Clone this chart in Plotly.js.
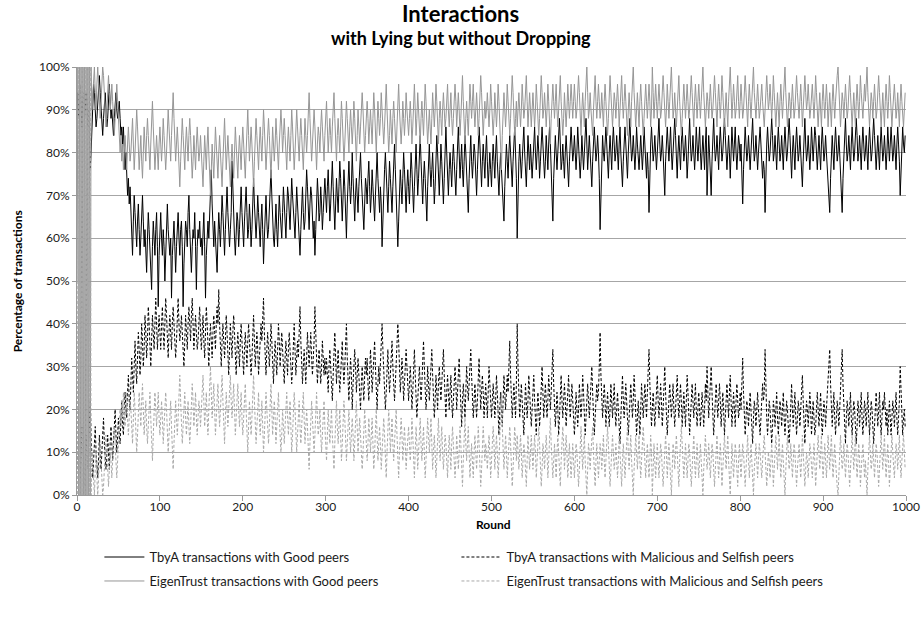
<!DOCTYPE html>
<html>
<head>
<meta charset="utf-8">
<script src="https://cdn.plot.ly/plotly-3.0.1.min.js"></script>
<style>
  html, body { margin: 0; padding: 0; background: #fff; }
  #chart { width: 921px; height: 621px; }
</style>
</head>
<body>
<div id="chart"></div>
<script>
// Share of transactions (%) per round, one value per round 0..999.

// TbyA: transactions with good peers
const tbyaGood = [
  90,94,88,92,96,90,86,92,94,88,90,94,92,86,90,82,76,80,86,92,96,94,90,86,88,92,96,98,94,90,88,84,88,92,94,90,86,88,94,96,92,88,90,86,84,88,92,94,90,88,
  90,92,88,84,86,82,86,80,76,80,74,70,74,68,72,66,62,56,64,70,66,62,58,64,68,62,56,60,66,70,64,58,62,56,52,60,66,62,58,54,48,58,64,60,56,62,66,58,44,56,
  62,66,60,56,62,58,50,58,64,68,62,58,56,60,46,56,62,64,58,52,58,62,66,60,56,62,64,58,44,54,60,64,62,58,66,70,62,56,52,58,62,60,66,58,48,58,62,60,64,58,
  60,56,62,66,58,46,56,62,64,60,66,72,76,68,62,58,64,60,54,52,60,66,62,58,64,70,66,60,56,62,68,72,66,60,58,62,66,78,70,64,60,56,62,66,64,58,62,68,72,66,
  62,58,64,68,72,66,60,62,68,64,58,62,70,74,68,62,60,64,70,66,60,58,64,68,62,54,60,66,70,64,60,62,68,72,76,70,64,60,58,64,68,62,58,64,70,66,62,60,66,72,
  68,64,60,66,72,70,64,62,68,74,70,66,62,60,66,72,68,64,62,56,62,68,72,66,62,64,70,76,72,66,62,68,72,70,64,60,64,56,62,68,74,70,64,66,72,68,62,66,70,74,
  70,66,72,76,70,64,68,74,78,72,66,62,68,74,70,66,72,78,74,68,64,70,76,72,66,60,68,74,78,72,68,72,80,74,68,64,70,74,70,66,72,76,80,74,70,66,62,68,74,72,
  68,74,78,72,66,70,76,72,68,64,70,76,80,74,70,66,72,68,58,66,72,76,80,76,70,66,72,78,74,70,66,72,76,82,76,70,66,58,64,70,76,72,68,74,80,76,70,66,72,76,
  72,68,74,80,76,70,66,72,78,82,76,70,74,80,84,78,72,68,74,78,74,70,64,72,78,82,76,72,76,80,74,68,72,78,84,80,74,70,76,82,78,72,68,74,80,86,80,74,70,76,
  80,76,72,78,82,78,74,70,76,82,86,80,74,78,82,76,72,78,84,80,76,72,66,74,80,84,78,74,78,82,80,74,70,76,82,86,82,76,72,78,82,78,74,80,84,78,72,76,80,76,
  72,78,82,78,74,80,84,78,74,70,76,80,76,72,68,64,72,78,82,78,74,80,84,80,76,72,78,82,86,80,74,60,72,78,82,78,74,78,82,86,80,76,72,78,84,80,76,82,78,74,
  78,82,86,80,76,80,84,80,74,78,82,86,82,78,74,78,84,80,76,82,86,82,76,72,64,74,80,84,80,76,80,86,88,82,76,78,82,78,74,80,84,80,76,72,78,82,86,82,78,80,
  84,80,76,80,86,82,78,74,78,84,80,76,80,84,88,82,76,80,84,80,76,72,78,82,86,82,78,80,84,80,74,62,72,80,84,80,78,82,86,82,76,74,80,84,80,76,82,86,82,78,
  80,84,80,76,82,86,80,76,72,78,82,86,82,78,74,80,84,88,82,78,80,84,80,76,80,86,82,78,76,80,84,80,76,80,86,82,78,74,80,76,66,76,82,86,82,78,80,84,80,76,
  80,84,88,82,78,80,84,80,76,70,78,84,86,82,78,82,86,80,76,80,84,88,84,78,74,80,84,80,76,82,86,82,78,80,84,80,74,78,84,88,82,78,80,84,80,76,80,86,82,78,
  82,86,80,76,80,84,80,76,82,86,70,78,84,80,76,70,78,84,88,82,78,80,84,80,76,82,86,82,78,80,84,88,84,80,76,80,84,80,74,80,86,82,78,82,86,80,76,80,84,82,
  78,82,76,68,76,82,86,82,78,80,84,80,76,80,86,88,82,78,80,84,80,76,80,84,86,82,78,74,78,76,66,76,82,86,82,78,80,84,88,84,78,80,84,80,76,82,86,82,78,80,
  84,80,76,82,86,82,78,80,84,88,84,78,74,80,84,80,76,82,86,82,78,80,84,80,76,72,78,84,88,82,78,80,84,80,76,80,86,82,78,82,86,84,78,76,80,84,80,76,82,86,
  82,78,80,84,80,76,72,70,66,74,80,84,80,76,82,86,82,78,80,84,80,76,72,66,74,80,84,88,82,78,80,84,80,76,82,86,82,78,80,84,88,84,78,80,84,80,76,82,86,82,
  78,80,84,80,76,82,86,82,78,80,84,88,84,78,76,80,84,80,76,82,86,82,78,80,84,80,76,80,86,82,78,82,86,82,78,80,84,80,76,82,86,82,78,70,76,82,86,82,80,84
];

// TbyA: transactions with malicious and selfish peers
const tbyaBad = [
  6,10,14,8,4,10,16,12,6,2,8,14,10,6,12,18,22,14,8,4,8,12,16,10,6,4,8,14,10,6,10,14,18,12,8,6,10,14,10,6,12,16,12,8,12,16,20,14,10,14,
  18,14,12,18,22,16,14,20,24,20,18,24,28,22,20,26,32,28,24,30,36,30,26,32,38,34,28,32,40,36,30,34,42,38,32,36,44,40,34,30,36,42,38,34,40,46,40,34,38,42,
  38,34,40,44,38,34,40,46,42,36,32,38,42,38,34,40,44,40,36,32,36,42,46,40,36,38,42,38,34,30,36,42,38,34,40,44,40,36,42,46,40,34,38,42,38,34,36,40,44,38,
  34,38,42,36,32,38,44,40,34,30,36,40,36,32,38,42,38,34,40,44,40,48,40,34,30,36,40,36,32,36,42,38,32,28,34,40,36,32,38,42,38,32,28,34,38,34,30,36,40,36,
  32,28,34,38,34,30,36,40,36,32,28,32,38,42,36,30,34,38,34,28,32,36,40,36,40,46,38,32,28,34,38,34,30,34,40,36,30,26,32,36,32,28,34,40,36,30,34,38,34,30,
  26,32,36,32,28,34,38,34,30,26,30,36,40,34,28,32,36,32,38,44,36,30,26,30,34,30,26,32,38,34,30,34,38,32,28,32,36,44,36,30,26,30,34,30,26,30,36,32,28,32,
  28,32,28,24,30,34,30,26,22,28,34,38,32,26,30,34,28,24,28,32,36,30,26,30,34,40,32,26,22,28,32,28,20,26,30,34,30,24,28,32,28,24,20,26,30,26,22,28,32,28,
  32,26,22,28,34,30,24,28,32,36,30,24,20,26,30,26,30,34,40,34,28,24,20,24,30,34,28,24,28,32,36,30,26,22,26,30,34,40,36,30,24,28,32,28,22,26,30,34,30,26,
  22,26,30,26,20,24,28,34,28,22,18,22,26,30,26,22,26,32,36,30,24,20,24,30,26,22,26,30,34,28,22,18,22,28,24,20,26,30,26,22,26,30,34,28,22,18,24,28,24,20,
  24,28,22,18,22,26,30,26,20,24,28,32,26,20,16,22,26,22,18,24,30,26,22,26,30,34,28,22,18,22,26,22,18,22,28,32,26,20,24,28,24,18,22,26,22,18,24,30,26,22,
  18,22,26,22,18,22,28,24,18,14,20,24,20,16,22,28,24,20,24,28,24,30,36,28,22,18,22,26,22,18,26,40,30,22,18,22,26,22,18,14,20,26,22,18,22,28,24,20,16,20,
  24,28,22,18,14,20,24,20,16,20,26,30,24,18,22,26,22,18,22,28,24,20,24,28,34,26,20,16,20,24,20,14,18,24,28,22,18,22,26,22,16,20,24,28,22,18,22,26,22,18,
  14,18,24,20,16,20,26,22,18,22,28,24,18,14,18,22,26,22,18,22,26,30,24,18,14,18,22,26,22,24,30,38,28,22,18,22,26,22,16,20,24,20,16,20,26,22,18,22,26,20,
  16,20,24,20,16,12,18,24,28,22,18,22,26,22,18,14,18,22,26,22,18,22,28,24,18,14,18,22,18,14,20,26,22,18,22,26,22,18,24,28,34,26,20,16,20,24,20,16,20,24,
  28,22,18,22,26,22,16,20,24,30,24,18,14,18,22,26,22,18,22,26,20,16,20,24,28,22,18,22,26,22,16,20,24,20,16,22,28,24,18,14,18,22,26,22,18,22,26,20,16,20,
  24,20,16,20,24,20,16,20,26,22,30,24,18,22,26,30,24,18,14,18,22,26,22,18,22,26,22,16,20,24,20,14,18,22,26,22,18,24,28,22,16,20,24,20,16,22,26,22,18,20,
  24,20,26,32,24,18,14,18,22,20,16,20,24,20,14,12,18,22,20,16,20,24,20,16,14,18,22,26,22,24,34,24,18,14,18,22,20,16,12,16,22,20,16,20,24,18,14,18,22,20,
  16,20,24,18,14,18,22,20,16,12,16,22,26,20,16,20,24,18,14,18,22,20,16,20,24,28,22,16,12,18,22,20,16,20,24,20,14,18,22,18,14,16,22,24,20,16,20,24,18,14,
  18,22,20,16,20,24,28,30,34,26,20,16,20,24,18,14,18,22,20,16,20,24,28,34,26,20,16,12,18,22,20,16,20,24,18,14,18,22,20,16,12,16,22,20,16,20,24,18,14,18,
  22,20,16,20,24,18,14,18,22,20,16,12,16,22,24,20,16,20,24,18,14,18,22,20,24,20,16,20,14,18,22,18,14,18,22,20,16,20,24,18,14,18,22,30,24,18,14,18,20,16
];

// EigenTrust: transactions with good peers
const eigenGood = [
  50,100,0,100,0,100,0,100,0,100,0,100,0,100,0,100,0,100,90,94,98,100,94,90,96,100,96,92,88,92,96,100,98,94,90,86,90,94,98,94,90,92,96,92,88,84,88,92,96,92,
  88,84,80,84,78,82,76,80,84,80,76,82,86,82,78,80,84,88,82,76,80,84,90,86,80,76,80,84,78,74,80,86,82,78,84,88,84,78,76,82,86,92,86,80,76,80,84,80,76,82,
  86,82,78,82,88,84,80,76,80,86,90,86,82,78,84,90,94,88,82,78,82,86,82,76,72,78,84,88,84,80,76,82,86,82,78,84,88,84,80,74,78,84,80,76,82,86,82,78,80,84,
  80,76,72,78,84,80,76,82,86,80,74,70,76,82,78,74,80,86,82,78,74,80,84,80,76,72,78,84,88,82,76,80,84,80,76,72,78,82,78,74,80,86,82,78,74,80,84,80,76,82,
  86,82,78,74,80,86,90,84,78,82,86,82,76,72,78,84,88,84,80,76,82,86,82,78,84,90,86,80,76,80,84,88,84,78,74,80,86,82,78,82,88,84,80,76,82,86,90,86,80,84,
  88,84,80,76,82,86,82,78,84,90,86,80,76,80,86,90,86,82,78,84,88,84,80,76,82,88,84,80,84,90,94,88,82,78,82,86,90,86,80,76,82,86,84,80,86,90,86,82,78,84,
  88,92,86,80,84,88,84,80,86,90,94,88,82,78,84,88,84,80,86,92,88,82,78,82,88,92,88,84,80,86,90,86,82,86,92,88,82,78,84,90,86,82,86,90,94,90,84,80,84,88,
  92,88,82,86,90,86,82,88,94,90,84,80,86,92,88,84,88,94,90,86,82,86,92,96,90,84,80,84,90,86,82,88,92,88,84,80,86,92,96,90,86,82,86,92,88,84,88,94,90,86,
  84,88,92,88,82,86,92,96,90,84,88,94,90,86,82,88,92,88,84,90,96,92,86,82,86,90,86,82,88,94,90,86,90,96,92,86,82,88,92,88,84,90,94,90,86,88,92,96,90,86,
  90,94,88,84,88,92,96,92,86,90,94,90,84,88,94,98,92,86,82,88,92,88,84,90,96,92,88,92,96,90,86,90,94,90,84,88,94,98,94,88,84,88,92,88,90,94,90,86,90,96,
  92,88,84,88,94,90,86,90,96,92,86,82,76,84,90,94,90,86,90,96,92,88,84,88,94,98,94,88,84,88,92,86,90,94,90,86,90,96,92,88,90,94,98,92,86,90,94,90,86,90,
  94,90,86,90,96,92,88,84,88,94,98,94,88,90,94,90,86,90,96,92,86,82,88,92,96,92,88,92,96,90,86,90,94,98,92,88,84,88,94,90,86,90,96,92,88,92,96,92,88,92,
  96,92,88,90,94,98,94,88,84,90,94,90,86,92,96,100,94,88,90,94,90,86,84,90,94,98,92,88,92,96,92,88,90,94,90,86,92,96,92,88,84,88,94,98,94,90,86,90,94,92,
  88,92,96,92,86,90,94,98,92,88,92,96,92,88,84,90,94,90,86,92,96,100,94,90,86,90,94,90,86,92,96,92,88,84,88,94,96,92,88,92,96,92,86,90,100,94,88,92,96,92,
  88,92,96,92,88,90,94,98,94,90,86,90,96,92,88,92,96,100,94,88,90,94,90,86,90,94,98,92,88,84,88,94,96,92,88,92,96,92,88,90,94,98,94,90,86,92,96,92,88,92,
  96,92,88,92,96,100,94,90,86,90,94,92,88,92,96,92,88,90,94,98,94,90,86,92,96,92,88,92,98,94,90,86,90,94,90,86,92,96,100,94,88,92,96,92,88,90,94,98,92,88,
  92,96,92,88,90,94,98,94,90,86,92,96,92,88,92,96,100,94,90,88,92,96,92,88,90,94,96,92,88,86,90,94,98,94,90,92,96,92,88,92,98,94,90,86,90,94,90,86,92,96,
  92,88,92,96,100,94,90,86,90,94,92,88,92,96,92,88,90,94,98,94,90,88,92,96,92,86,90,94,98,94,90,92,96,92,88,90,94,96,92,88,92,98,94,90,86,90,94,90,86,92,
  96,92,88,92,96,92,86,90,94,90,86,92,96,92,88,92,96,98,100,94,90,86,90,94,92,88,92,96,92,88,90,94,98,94,90,86,90,94,90,86,92,96,92,88,92,98,94,90,88,92,
  96,92,96,100,94,90,86,90,94,92,88,92,96,92,88,90,94,98,94,90,86,90,94,90,86,92,96,92,88,92,98,94,90,86,90,94,96,92,88,90,94,90,86,92,96,92,88,86,90,94
];

// EigenTrust: transactions with malicious and selfish peers
const eigenBad = [
  50,0,100,0,100,0,100,0,100,0,100,0,100,0,100,0,100,0,10,6,2,0,6,10,4,0,4,8,12,8,4,0,2,6,10,14,10,6,2,6,10,8,4,8,12,16,12,8,4,8,
  12,16,20,16,22,18,24,20,16,20,24,18,14,18,22,20,16,12,18,24,20,16,10,14,20,24,20,16,22,26,20,14,18,22,16,12,16,22,24,18,14,8,14,20,24,20,16,20,24,18,
  14,18,22,18,12,16,20,24,20,14,10,14,18,22,16,10,6,12,18,22,18,14,18,24,28,22,16,12,16,20,24,18,14,18,22,16,12,16,20,26,22,16,20,24,18,14,18,22,20,16,
  20,24,28,22,16,20,24,18,14,20,26,30,24,18,22,26,20,14,18,22,26,20,16,20,24,28,22,16,12,18,24,20,16,20,24,28,22,18,22,26,20,14,18,22,26,20,16,20,24,18,
  14,18,22,26,20,14,10,16,22,18,14,18,24,28,22,16,12,16,20,24,18,14,18,22,16,10,14,20,24,20,16,12,16,22,26,20,14,18,22,18,12,16,20,24,18,14,10,14,20,16,
  12,16,20,24,18,14,18,22,16,10,14,20,24,20,14,10,14,18,22,16,12,16,20,24,18,12,16,20,16,10,6,12,18,22,18,14,10,14,20,24,18,14,16,20,14,10,14,18,22,16,
  12,8,14,20,16,12,16,20,14,10,6,12,18,22,16,12,16,20,14,8,12,18,22,18,12,8,12,16,20,14,10,14,18,14,8,12,18,22,16,10,14,18,14,10,6,10,16,20,16,12,
  8,12,18,14,10,14,18,12,6,10,16,20,14,8,12,16,12,6,10,14,18,14,8,4,10,16,20,16,10,14,18,12,8,12,16,20,14,8,4,10,14,18,14,8,12,16,12,6,10,14,
  16,12,8,12,18,14,8,4,10,16,12,6,10,14,18,12,8,12,16,10,4,8,14,18,14,10,14,18,12,6,10,14,10,4,8,14,18,12,8,12,16,10,6,10,14,12,8,4,10,14,
  10,6,12,16,12,8,4,8,14,10,6,10,16,12,6,2,8,14,18,12,8,12,16,10,4,8,12,8,4,10,14,10,6,10,16,12,6,2,6,12,16,12,8,12,10,6,10,14,10,4,
  8,12,16,12,6,10,14,10,4,8,14,18,24,16,10,6,10,14,10,4,8,12,16,12,6,2,6,12,16,12,8,14,10,6,10,14,10,4,8,12,10,6,2,8,14,10,6,10,14,10,
  6,10,14,10,4,8,12,16,12,6,2,6,12,10,6,10,14,10,4,8,14,18,12,8,4,8,12,8,4,10,14,10,6,2,8,12,16,12,6,10,14,10,4,8,12,8,4,8,12,8,
  4,8,12,10,6,2,6,12,16,10,6,10,14,8,4,0,6,12,10,6,10,14,16,10,6,2,8,12,8,4,8,12,10,6,10,14,8,4,8,12,16,12,6,2,6,10,14,10,6,8,
  12,8,4,8,14,10,6,2,8,12,8,4,8,12,16,10,6,10,14,8,4,0,6,10,14,10,6,10,14,8,4,8,12,16,12,6,4,8,12,8,4,8,14,10,0,6,12,8,4,8,
  12,8,4,8,12,10,6,2,6,10,14,10,4,8,12,8,4,0,6,12,10,6,10,14,10,6,2,8,12,16,12,6,4,8,12,8,4,8,12,10,6,2,6,10,14,8,4,8,12,8,
  4,8,12,8,4,0,6,10,14,10,6,8,12,8,4,8,12,10,6,2,6,10,14,8,4,8,12,8,2,6,10,14,10,6,10,14,8,4,0,6,12,8,4,8,12,10,6,2,8,12,
  8,4,8,12,10,6,2,6,10,14,8,4,8,12,8,4,0,6,10,12,8,4,8,12,10,6,4,8,12,14,10,6,2,6,10,8,4,8,12,8,2,6,10,14,10,6,10,14,8,4,
  8,12,8,4,0,6,10,14,10,6,8,12,8,4,8,12,10,6,2,6,10,12,8,4,8,14,10,6,2,6,10,8,4,8,12,10,6,4,8,12,8,2,6,10,14,10,6,10,14,8,
  4,8,12,8,4,8,14,10,6,10,14,8,4,8,12,8,4,2,0,6,10,14,10,6,8,12,8,4,8,12,10,6,2,6,10,14,10,6,10,14,8,4,8,12,8,2,6,10,12,8,
  4,8,4,0,6,10,14,10,6,8,12,8,4,8,12,10,6,2,6,10,14,10,6,10,14,8,4,8,12,8,2,6,10,14,10,6,4,8,12,10,6,10,14,8,4,8,12,14,10,6
];

const seriesNames = [
  'TbyA transactions with Good peers',
  'TbyA transactions with Malicious and Selfish peers',
  'EigenTrust transactions with Good peers',
  'EigenTrust transactions with Malicious and Selfish peers'
];
const xTicks = [0, 100, 200, 300, 400, 500, 600, 700, 800, 900, 1000];
const yTicks = [0, 10, 20, 30, 40, 50, 60, 70, 80, 90, 100];

const rounds = tbyaGood.map((_, i) => i);
const FONT = 'Lato, "Open Sans", "DejaVu Sans", sans-serif';
const DASH = '3px,2px';

function line(y, name, color, dash, legendId) {
  return {
    type: 'scatter', mode: 'lines', x: rounds.slice(0, y.length), y: y, name: name,
    line: { color: color, width: 1, dash: dash },
    legend: legendId, hoverinfo: 'skip'
  };
}

// one legend box per entry, laid out as a 2 x 2 grid under the axis
const traces = [
  line(tbyaGood,  seriesNames[0], '#000000', 'solid', 'legend'),
  line(tbyaBad,   seriesNames[1], '#000000', DASH,    'legend2'),
  line(eigenGood, seriesNames[2], '#969696', 'solid', 'legend3'),
  line(eigenBad,  seriesNames[3], '#a9a9a9', DASH,    'legend4')
];

const legendBase = {
  orientation: 'h', xanchor: 'left', yanchor: 'middle', itemwidth: 40,
  font: { family: FONT, size: 13, color: '#1a1a1a' },
  bgcolor: 'rgba(0,0,0,0)', borderwidth: 0
};
const COL1 = 0.027, COL2 = 0.4577, ROW1 = -0.145, ROW2 = -0.201;

const layout = {
  width: 921, height: 621,
  margin: { l: 77, r: 15, t: 67, b: 126 },
  paper_bgcolor: '#ffffff', plot_bgcolor: '#ffffff',
  font: { family: FONT, size: 12, color: '#1a1a1a' },
  showlegend: true,
  legend:  Object.assign({}, legendBase, { x: COL1, y: ROW1 }),
  legend2: Object.assign({}, legendBase, { x: COL2, y: ROW1 }),
  legend3: Object.assign({}, legendBase, { x: COL1, y: ROW2 }),
  legend4: Object.assign({}, legendBase, { x: COL2, y: ROW2 }),
  xaxis: {
    range: [0, 1000], tickvals: xTicks, ticktext: xTicks.map(String),
    showgrid: false, zeroline: false,
    showline: true, linecolor: '#9a9a9a', linewidth: 1,
    ticks: 'outside', ticklen: 5, tickcolor: '#9a9a9a', ticklabelstandoff: -4,
    tickfont: { family: FONT, size: 12, color: '#1a1a1a' }
  },
  yaxis: {
    range: [0, 100], tickvals: yTicks, ticktext: yTicks.map(v => v + '%'),
    showgrid: true, gridcolor: '#a6a6a6', gridwidth: 1, zeroline: false,
    showline: true, linecolor: '#9a9a9a', linewidth: 1,
    ticks: 'outside', ticklen: 4, tickcolor: '#9a9a9a',
    tickfont: { family: FONT, size: 12, color: '#1a1a1a' }
  },
  annotations: [
    { text: '<b>Interactions</b>', xref: 'paper', yref: 'paper', x: 0.463, y: 1.126,
      xanchor: 'center', yanchor: 'middle', showarrow: false,
      font: { family: FONT, size: 22, color: '#000' } },
    { text: '<b>with Lying but without Dropping</b>', xref: 'paper', yref: 'paper', x: 0.463, y: 1.068,
      xanchor: 'center', yanchor: 'middle', showarrow: false,
      font: { family: FONT, size: 18, color: '#000' } },
    { text: '<b>Round</b>', xref: 'paper', yref: 'paper', x: 0.502, y: -0.068,
      xanchor: 'center', yanchor: 'middle', showarrow: false,
      font: { family: FONT, size: 12, color: '#000' } },
    { text: '<b>Percentage of transactions</b>', xref: 'paper', yref: 'paper', x: -0.072, y: 0.5,
      xanchor: 'center', yanchor: 'middle', textangle: -90, showarrow: false,
      font: { family: FONT, size: 12, color: '#000' } }
  ]
};

Plotly.newPlot('chart', traces, layout, { staticPlot: true, displayModeBar: false });
</script>
</body>
</html>
